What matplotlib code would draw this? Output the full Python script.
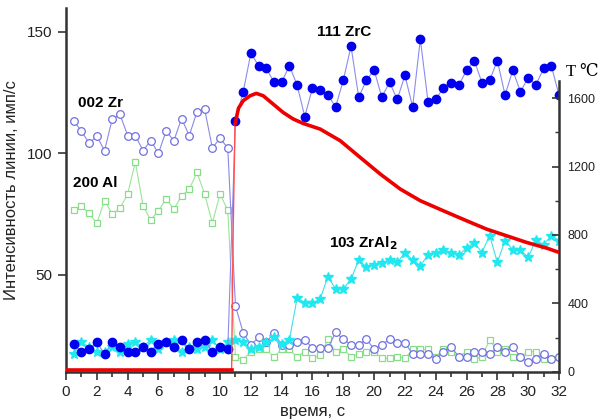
import matplotlib
matplotlib.use("Agg")
import matplotlib.pyplot as plt
from matplotlib.ticker import MultipleLocator

plt.rcParams["font.family"] = ["Liberation Sans", "DejaVu Sans"]

# time, s (one point every 0.5 s)
t = [0.5 * i for i in range(1, 65)]

zr_002 = [113.3, 109.2, 104.1, 107.1, 101.1, 114.1, 116.1, 107.3, 107.3, 101.1,
          105.2, 100.0, 109.2, 105.2, 114.3, 107.3, 117.1, 118.1, 102.2, 106.2,
          102.2, 37.1, 26.1, 21.0, 24.2, 22.1, 26.1, 21.0, 21.0, 22.1,
          23.2, 19.7, 19.7, 19.7, 26.2, 23.4, 21.1, 21.1, 23.4, 19.3,
          21.1, 23.4, 22.0, 22.0, 17.2, 17.2, 17.2, 15.2, 18.3, 20.2,
          16.2, 16.2, 18.3, 18.3, 17.2, 20.2, 18.3, 20.2, 16.2, 14.1,
          15.2, 17.2, 15.2, 16.2]

al_200 = [76.5, 78.4, 75.2, 71.2, 80.5, 75.0, 77.3, 83.2, 96.4, 78.4,
          72.5, 76.4, 81.2, 77.0, 82.4, 85.2, 92.1, 83.2, 71.3, 83.2,
          76.5, 16.0, 15.0, 18.3, 19.2, 19.2, 16.0, 19.2, 19.2, 16.0,
          18.3, 15.5, 16.9, 23.3, 18.3, 19.3, 16.2, 17.2, 18.3, 18.3,
          15.5, 15.5, 16.2, 15.5, 19.2, 19.2, 19.2, 16.2, 19.2, 18.3,
          16.2, 18.3, 15.2, 16.2, 23.1, 18.3, 19.2, 16.2, 16.2, 18.3,
          18.3, 15.2, 15.2, 16.2]

zrc_111 = [21.3, 18.3, 19.2, 22.1, 17.3, 22.1, 20.3, 18.3, 18.3, 20.3,
           18.3, 21.3, 22.1, 20.3, 23.1, 19.2, 22.1, 23.1, 18.3, 20.3,
           19.2, 113.3, 125.3, 141.2, 136.1, 135.0, 129.3, 129.3, 136.1, 128.1,
           115.1, 127.0, 126.1, 124.0, 119.1, 130.1, 144.1, 123.1, 130.1, 134.3,
           123.1, 129.3, 122.2, 132.1, 119.1, 147.1, 121.2, 122.2, 127.0, 129.1,
           128.1, 134.2, 138.2, 129.1, 130.1, 138.2, 124.0, 134.2, 125.3, 131.2,
           128.1, 135.0, 136.1, 124.0]

zral2_103 = [17.3, 22.1, 20.1, 18.3, 18.3, 20.3, 18.3, 21.3, 22.1, 20.3,
             23.2, 19.2, 22.1, 23.2, 18.3, 20.3, 19.2, 20.3, 23.1, 19.2,
             22.1, 23.1, 22.1, 19.2, 20.2, 22.1, 24.2, 21.3, 23.1, 40.3,
             38.5, 38.2, 40.0, 49.2, 44.1, 44.1, 48.1, 56.1, 53.1, 54.1,
             54.9, 56.1, 55.0, 59.1, 56.1, 53.7, 58.1, 59.1, 60.0, 59.1,
             58.1, 61.1, 63.2, 59.1, 66.1, 55.0, 64.0, 60.2, 60.2, 57.1,
             64.3, 62.3, 66.1, 64.0]

# temperature, deg C
t_temp = [0, 10.75, 10.85, 10.97, 11.2, 11.5, 11.95, 12.35, 12.8, 13.45, 14.1,
          14.75, 15.4, 16.5, 17.8, 19.1, 20.4, 21.7, 23.0, 24.5, 26.0, 27.3,
          28.6, 29.9, 31.2, 32.0]
temp = [10, 10, 825, 1450, 1542, 1585, 1614, 1628, 1614, 1565, 1516,
        1478, 1452, 1419, 1351, 1253, 1156, 1068, 1000, 941, 883, 834,
        795, 756, 723, 698]

spine_c = "#333333"

fig = plt.figure(figsize=(5.99, 4.2), dpi=100)
ax = fig.add_axes([0.1102, 0.115, 0.823, 0.8667])
ax2 = fig.add_axes([0.1102, 0.115, 0.823, 0.692])
ax2.patch.set_visible(False)

ax.plot(t, zr_002, "-o", color="#8a8ae6", lw=0.8, ms=5.5, mfc="white",
        mec="#7070e0", mew=0.9, zorder=3)
ax.plot(t, al_200, "-s", color="#98e698", lw=0.8, ms=5, mfc="white",
        mec="#88dd88", mew=0.9, zorder=2)
ax.plot(t, zrc_111, "-o", color="#8c8cf0", lw=0.8, ms=6, mfc="#0000ee",
        mec="#0000ee", zorder=4)
ax.plot(t, zral2_103, "-*", color="#40e0e8", lw=0.8, ms=7, mfc="#20e8f0",
        mec="#20e8f0", zorder=3)

# thin steep rise, thick flat part and thick cooling curve
ax2.plot(t_temp[1:4], temp[1:4], color="#ff5050", lw=1.0, zorder=5)
ax2.plot(t_temp[:2], temp[:2], color="#ee0000", lw=2.6, zorder=5)
ax2.plot(t_temp[3:], temp[3:], color="#ee0000", lw=2.6, zorder=5)

ax.set_xlim(0, 32)
ax.set_ylim(10, 160)
ax2.set_xlim(0, 32)
ax2.set_ylim(0, 1700)

ax.xaxis.set_major_locator(MultipleLocator(2))
ax.xaxis.set_minor_locator(MultipleLocator(1))
ax.set_yticks([50, 100, 150])
ax.tick_params(axis="both", which="major", direction="out", length=6,
               width=1.2, color=spine_c, labelsize=11, labelcolor="#222222")
ax.tick_params(axis="x", which="minor", direction="out", length=3.5,
               width=1.2, color=spine_c)
for s in ["top", "right"]:
    ax.spines[s].set_visible(False)
for s in ["left", "bottom"]:
    ax.spines[s].set_linewidth(1.8)
    ax.spines[s].set_color(spine_c)

ax2.set_xticks([])
ax2.yaxis.tick_right()
ax2.set_yticks([0, 400, 800, 1200, 1600])
ax2.yaxis.set_minor_locator(MultipleLocator(200))
ax2.tick_params(axis="y", which="major", direction="in", length=5, width=1.2,
                color=spine_c, labelsize=9, labelcolor="#222222", pad=6)
ax2.tick_params(axis="y", which="minor", direction="in", length=3, width=1.0,
                color=spine_c)
for s in ["top", "left", "bottom"]:
    ax2.spines[s].set_visible(False)
ax2.spines["right"].set_linewidth(1.8)
ax2.spines["right"].set_color(spine_c)

ax.set_ylabel("Интенсивность линии, имп/с", fontsize=12, color="#222222",
              labelpad=6)
ax.set_xlabel("время, с", fontsize=12, color="#222222", labelpad=4)

ax.text(0.78, 120.7, "002 Zr", fontsize=11, fontweight="bold", va="center")
ax.text(0.45, 87.8, "200 Al", fontsize=11, fontweight="bold", va="center")
ax.text(16.3, 150.0, "111 ZrC", fontsize=11, fontweight="bold", va="center")
ax.text(17.1, 63.0, r"103 ZrAl$_\mathbf{2}$", fontsize=11, fontweight="bold",
        va="center")
fig.text(566 / 599, 1 - 72 / 420, "T ℃", fontsize=12, va="center",
         family=["Liberation Serif", "DejaVu Serif"])

fig.savefig("out.png", dpi=100)
